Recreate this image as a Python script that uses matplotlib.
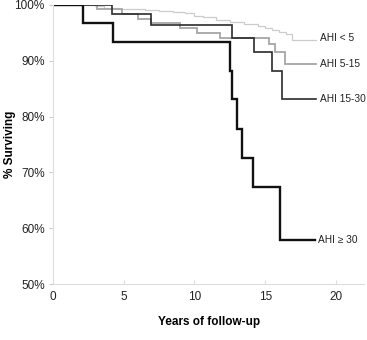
import matplotlib
matplotlib.use("Agg")
import matplotlib.pyplot as plt

plt.rcParams['font.family'] = ['Liberation Sans', 'DejaVu Sans']

# Kaplan-Meier step curves (years, % surviving)
t_lt5 = [0, 3.0, 3.6, 4.5, 5.5, 6.5, 7.5, 8.5, 9.3, 10.0, 10.6, 11.5, 12.5, 13.5, 14.5, 15.0, 15.5, 16.0, 16.5, 16.9, 18.6]
s_lt5 = [100, 99.8, 99.5, 99.3, 99.2, 99.1, 99.0, 98.8, 98.5, 98.1, 97.8, 97.4, 97.0, 96.6, 96.2, 95.9, 95.6, 95.2, 94.8, 93.7, 93.7]

t_5_15 = [0, 3.1, 4.85, 6.0, 6.9, 9.0, 10.2, 11.8, 15.3, 15.7, 16.4, 18.6]
s_5_15 = [100, 99.2, 98.4, 97.5, 96.7, 95.8, 94.9, 94.1, 93.1, 91.6, 89.5, 89.5]

t_15_30 = [0, 4.15, 6.9, 12.67, 14.2, 15.45, 16.16, 18.6]
s_15_30 = [100, 98.4, 96.4, 94.0, 91.5, 88.2, 83.2, 83.2]

t_ge30 = [0, 2.14, 4.26, 12.5, 12.67, 13.0, 13.38, 14.16, 16.04, 18.5]
s_ge30 = [100, 96.7, 93.3, 88.2, 83.1, 77.7, 72.6, 67.4, 57.8, 57.8]

labels = ['AHI < 5', 'AHI 5-15', 'AHI 15-30', 'AHI \u2265 30']
colors = ['#cccccc', '#a6a6a6', '#2b2b2b', '#111111']
widths = [0.9, 1.3, 1.2, 1.7]
curves = [(t_lt5, s_lt5), (t_5_15, s_5_15), (t_15_30, s_15_30), (t_ge30, s_ge30)]
label_y = [94.0, 89.5, 83.2, 57.8]

fig = plt.figure(figsize=(3.67, 3.40), dpi=100)
ax = fig.add_axes([0.1444, 0.1647, 0.848, 0.8206])

for (t, s), c, w, lab, ly in zip(curves, colors, widths, labels, label_y):
    ax.step(t, s, where='post', color=c, lw=w, solid_joinstyle='miter')
    ax.text(t[-1] + 0.25, ly, lab, fontsize=7.3, va='center', ha='left', color='#222222')

ax.set_xlim(0, 22)
ax.set_ylim(50, 100)
ax.set_xticks([0, 5, 10, 15, 20])
ax.set_yticks([50, 60, 70, 80, 90, 100])
ax.set_yticklabels(['%d%%' % v for v in [50, 60, 70, 80, 90, 100]])

for side in ['top', 'right']:
    ax.spines[side].set_visible(False)
for side in ['left', 'bottom']:
    ax.spines[side].set_color('#dddddd')
    ax.spines[side].set_linewidth(0.8)

ax.tick_params(axis='y', direction='out', length=3, color='#cccccc', labelsize=8.5, labelcolor='#222222', pad=3)
ax.tick_params(axis='x', direction='in', length=3, color='#dddddd', labelsize=8.5, labelcolor='#222222', pad=5)

ax.set_xlabel('Years of follow-up', fontsize=8.5, fontweight='bold')
ax.xaxis.set_label_coords(0.5, -0.115)
ax.set_ylabel('% Surviving', fontsize=8.5, fontweight='bold')
ax.yaxis.set_label_coords(-0.12, 0.5)

fig.savefig('out.png', dpi=100)
